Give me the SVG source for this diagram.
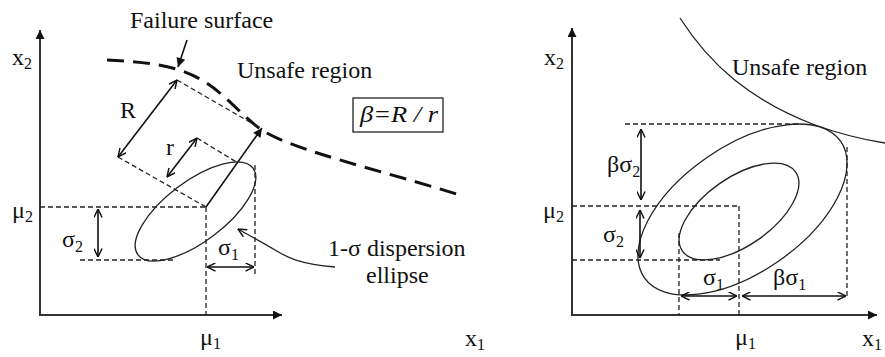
<svg xmlns="http://www.w3.org/2000/svg" width="885" height="357" viewBox="0 0 885 357" font-family="'Liberation Serif', 'DejaVu Serif', serif">
<style>
text{font-family:'Liberation Serif','DejaVu Serif',serif;font-size:24px;fill:#111}
.sub{font-size:16px}
.ax{stroke:#333;stroke-width:2;fill:none}
.dash{stroke:#222;stroke-width:1.3;stroke-dasharray:5 3;fill:none}
.thin{stroke:#222;stroke-width:1.3;fill:none}
.dim{stroke:#111;stroke-width:1.6;fill:none}
</style>
<defs>
<marker id="tri" viewBox="0 0 10 10" refX="10" refY="5" markerWidth="11" markerHeight="9" orient="auto" markerUnits="userSpaceOnUse"><path d="M0,0 L10,5 L0,10 z" fill="#111"/></marker>
<marker id="v" viewBox="0 0 10 10" refX="9.5" refY="5" markerWidth="9" markerHeight="9" orient="auto-start-reverse" markerUnits="userSpaceOnUse"><path d="M0,0.5 L9.5,5 L0,9.5" fill="none" stroke="#111" stroke-width="1.6"/></marker>
</defs>
<rect width="885" height="357" fill="#fff"/>

<g id="left-axes">
<line class="ax" x1="40" y1="315" x2="40" y2="30" marker-end="url(#tri)"/>
<line class="ax" x1="39" y1="315" x2="282" y2="315" marker-end="url(#tri)"/>
<text x="12" y="65">x<tspan class="sub" dy="4">2</tspan></text>
<text x="465" y="346">x<tspan class="sub" dy="4">1</tspan></text>
<text x="200" y="345">μ<tspan class="sub" dy="4">1</tspan></text>
<text x="12" y="218">μ<tspan class="sub" dy="4">2</tspan></text>
</g>

<g id="failure-surface">
<path d="M107,60 C150,62 180,66 205,82 C230,98 245,120 265,132 C300,152 380,170 463,196" fill="none" stroke="#111" stroke-width="3" stroke-dasharray="17 9"/>
<text x="130" y="28">Failure surface</text>
</g>
<g id="unsafe-left"><text x="237" y="78">Unsafe region</text></g>
<g id="beta-box">
<rect x="353" y="98" width="90" height="34" fill="none" stroke="#222" stroke-width="1.3"/>
<text x="360" y="122" font-style="italic" textLength="78" lengthAdjust="spacingAndGlyphs">β=R / r</text>
</g>
<g id="ellipse-left">
<ellipse cx="195.5" cy="211.5" rx="72" ry="30" transform="rotate(-37 195.5 211.5)" class="thin"/>
</g>
<g id="label-dispersion">
<text x="328" y="256">1-σ dispersion</text>
<text x="366" y="283">ellipse</text>
</g>
<g id="labels-left">
<text x="120" y="118">R</text>
<text x="166" y="155">r</text>
<text x="62" y="247">σ<tspan class="sub" dy="5">2</tspan></text>
<text x="218" y="255">σ<tspan class="sub" dy="5">1</tspan></text>
</g>

<g id="right-axes">
<line class="ax" x1="572" y1="315" x2="572" y2="28" marker-end="url(#tri)"/>
<line class="ax" x1="571" y1="315" x2="877" y2="315" marker-end="url(#tri)"/>
<text x="544" y="65">x<tspan class="sub" dy="4">2</tspan></text>
<text x="862" y="346">x<tspan class="sub" dy="4">1</tspan></text>
<text x="735" y="345">μ<tspan class="sub" dy="4">1</tspan></text>
<text x="543" y="218">μ<tspan class="sub" dy="4">2</tspan></text>
</g>
<g id="limit-curve">
<path d="M680,18 C710,65 750,100 815,125 C840,134 865,140 885,143" class="thin"/>
<text x="732" y="75">Unsafe region</text>
</g>
<g id="ellipses-right">
<ellipse cx="742.5" cy="209.5" rx="119.5" ry="63" transform="rotate(-34.7 742.5 209.5)" class="thin"/>
<ellipse cx="739" cy="211.5" rx="69" ry="34" transform="rotate(-35 739 211.5)" class="thin"/>
</g>
<g id="labels-right">
<text x="607" y="172">βσ<tspan class="sub" dy="5">2</tspan></text>
<text x="603" y="242">σ<tspan class="sub" dy="5">2</tspan></text>
<text x="703" y="285">σ<tspan class="sub" dy="5">1</tspan></text>
<text x="773" y="285">βσ<tspan class="sub" dy="5">1</tspan></text>
</g>

<g id="connectors">
<line x1="187" y1="40" x2="178" y2="67" class="dim" marker-end="url(#tri)"/>
<line x1="206" y1="207" x2="262" y2="128" class="dim" marker-end="url(#tri)"/>
<path d="M335,267 C300,264 288,258 275,250 C262,242 250,236 238,229" class="thin" marker-end="url(#v)"/>
<line class="dash" x1="177" y1="80" x2="260" y2="128"/>
<line class="dash" x1="118" y1="157" x2="206" y2="207"/>
<line class="dash" x1="197" y1="138" x2="238" y2="163"/>
<line class="dim" x1="177" y1="80" x2="118" y2="157" marker-start="url(#v)" marker-end="url(#v)"/>
<line class="dim" x1="197" y1="138" x2="167" y2="177" marker-start="url(#v)" marker-end="url(#v)"/>
<line class="dash" x1="40" y1="207" x2="206" y2="207"/>
<line class="dash" x1="206" y1="207" x2="206" y2="315"/>
<line class="dash" x1="80" y1="260" x2="176" y2="260"/>
<line class="dash" x1="255" y1="165" x2="255" y2="275"/>
<line class="dim" x1="98" y1="209" x2="98" y2="257" marker-start="url(#v)" marker-end="url(#v)"/>
<line class="dim" x1="207" y1="267" x2="254" y2="267" marker-start="url(#v)" marker-end="url(#v)"/>

<line class="dash" x1="625" y1="124" x2="800" y2="124"/>
<line class="dash" x1="847" y1="147" x2="847" y2="296"/>
<line class="dash" x1="572" y1="206" x2="739" y2="206"/>
<line class="dash" x1="739" y1="206" x2="739" y2="315"/>
<line class="dash" x1="572" y1="260" x2="720" y2="260"/>
<line class="dash" x1="679" y1="233" x2="679" y2="315"/>
<line class="dim" x1="641" y1="129" x2="641" y2="200" marker-start="url(#v)" marker-end="url(#v)"/>
<line class="dim" x1="640" y1="210" x2="640" y2="258" marker-start="url(#v)" marker-end="url(#v)"/>
<line class="dim" x1="681" y1="296" x2="737" y2="296" marker-start="url(#v)" marker-end="url(#v)"/>
<line class="dim" x1="742" y1="296" x2="846" y2="296" marker-start="url(#v)" marker-end="url(#v)"/>
</g>
</svg>
